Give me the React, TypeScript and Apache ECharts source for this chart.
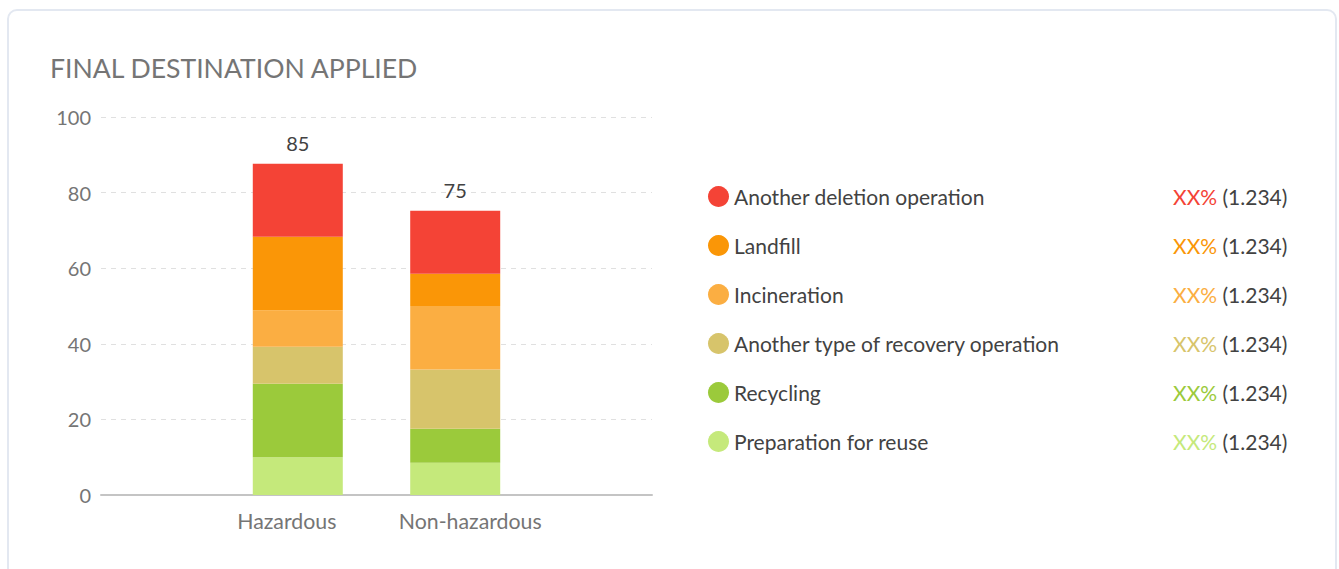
import React, { useEffect, useRef } from "react";
import * as echarts from "echarts";

const titleText = "FINAL DESTINATION APPLIED";
const categories = ["Hazardous", "Non-hazardous"];
// series listed bottom-to-top in the stack
const seriesNames = [
  "Preparation for reuse",
  "Recycling",
  "Another type of recovery operation",
  "Incineration",
  "Landfill",
  "Another deletion operation",
];
const seriesColors = ["#c5e97b", "#9bca3b", "#d7c46b", "#fbae42", "#fa9607", "#f44336"];
const prepForReuse = [10, 8.5];
const recycling = [19.4, 9.0];
const otherRecovery = [9.8, 15.7];
const incineration = [9.7, 16.8];
const landfill = [19.4, 8.5];
const otherDeletion = [19.3, 16.7];
const totalLabels = ["85", "75"];
const legendPct = ["XX%", "XX%", "XX%", "XX%", "XX%", "XX%"];
const legendAmount = ["(1.234)", "(1.234)", "(1.234)", "(1.234)", "(1.234)", "(1.234)"];
const yTicks = { min: 0, max: 100, interval: 20 };

const FONT = "Lato";

export default function App() {
  const ref = useRef<HTMLDivElement>(null);

  useEffect(() => {
    if (!ref.current) return;
    const chart = echarts.init(ref.current, undefined, { renderer: "svg" });

    const seriesValues = [prepForReuse, recycling, otherRecovery, incineration, landfill, otherDeletion];
    // category slots: categories sit in slots 2 and 4 of 7 equal bands
    const slots = 7;
    const slotOf = [2, 4];
    const axisData: string[] = [];
    for (let i = 0; i < slots; i++) {
      const k = slotOf.indexOf(i);
      axisData.push(k >= 0 ? categories[k] : "");
    }
    const pad = (arr: number[]) => axisData.map((_, i) => {
      const k = slotOf.indexOf(i);
      return k >= 0 ? arr[k] : null;
    });

    const LF = 21;
    const rich: any = {
      n: { width: 439, fontSize: LF, color: "#424242", fontFamily: FONT, lineHeight: 21 },
      v: { fontSize: LF, color: "#424242", fontFamily: FONT, lineHeight: 21 },
    };
    seriesNames.forEach((_, i) => {
      rich["p" + i] = { fontSize: LF, color: seriesColors[i], fontFamily: FONT, lineHeight: 21 };
    });

    const series = seriesNames.map((name, i) => ({
      name,
      type: "bar",
      stack: "total",
      barWidth: 90,
      data: pad(seriesValues[i]),
      itemStyle: { color: seriesColors[i] },
      emphasis: { disabled: true },
      label: i === seriesNames.length - 1
        ? {
            show: true,
            position: "top",
            distance: 11,
            fontSize: 20,
            fontFamily: FONT,
            color: "#424242",
            formatter: (p: any) => {
              const k = slotOf.indexOf(p.dataIndex);
              return k >= 0 ? totalLabels[k] : "";
            },
          }
        : { show: false },
    }));

    chart.setOption({
      animation: false,
      textStyle: { fontFamily: FONT },
      graphic: [
        {
          type: "text",
          left: 50,
          top: 54,
          style: {
            text: titleText,
            fontSize: 26.6,
            fontFamily: FONT,
            fill: "#757575",
          },
        },
      ],
      grid: { left: 101, right: 687, top: 117, bottom: 74 },
      xAxis: {
        type: "category",
        data: axisData,
        axisTick: { show: false },
        axisLine: { lineStyle: { color: "#c4c4c4", width: 2 } },
        axisLabel: {
          interval: 0,
          margin: 15,
          formatter: (v: string) => {
            if (v === categories[0]) return "{h|" + v + "}";
            if (v === categories[1]) return "{k|" + v + "}";
            return "";
          },
          rich: {
            h: { fontSize: 21.3, fontFamily: FONT, color: "#757575", padding: [0, 22, 0, 0] },
            k: { fontSize: 21.3, fontFamily: FONT, color: "#757575", padding: [0, 0, 0, 30] },
          },
        },
      },
      yAxis: {
        type: "value",
        min: yTicks.min,
        max: yTicks.max,
        interval: yTicks.interval,
        axisLine: { show: false },
        axisTick: { show: false },
        axisLabel: { fontSize: 20, fontFamily: FONT, color: "#757575", margin: 10 },
        splitLine: { lineStyle: { color: "#e0e0e0", type: [5, 5], width: 1 } },
      },
      legend: {
        orient: "vertical",
        left: 703,
        top: 181,
        icon: "circle",
        itemWidth: 21,
        itemHeight: 21,
        itemGap: 28,
        selectedMode: false,
        data: [...seriesNames].reverse(),
        formatter: (name: string) => {
          const i = seriesNames.indexOf(name);
          return "{n|" + name + "}{p" + i + "|" + legendPct[i] + "}{v| " + legendAmount[i] + "}";
        },
        textStyle: { rich },
      },
      series,
    });

    return () => chart.dispose();
  }, []);

  return (
    <div style={{ position: "fixed", left: 0, top: 0, width: 1339, height: 569, overflow: "hidden", background: "#fff" }}>
      <div
        style={{
          position: "absolute",
          left: 7,
          top: 9,
          width: 1330,
          height: 640,
          border: "2px solid #e3e8f1",
          borderRadius: 10,
          boxSizing: "border-box",
        }}
      />
      <div ref={ref} style={{ position: "absolute", left: 0, top: 0, width: 1339, height: 569 }} />
    </div>
  );
}
